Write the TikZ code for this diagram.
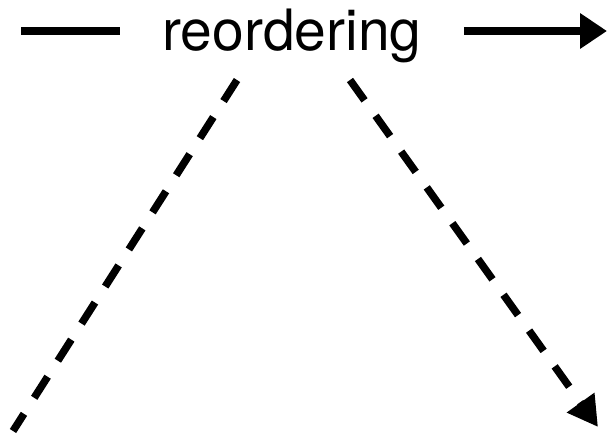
\documentclass[tikz,border=0pt]{standalone}
\usepackage{fontspec}
\setmainfont{TeX Gyre Heros}
\usetikzlibrary{arrows.meta,
                calc}

\begin{document}
\begin{tikzpicture}[x=1pt, y=-1pt,
    link/.style={line width=7.5pt},
    dlink/.style={line width=7.5pt, dash pattern=on 25pt off 19pt}]
 \useasboundingbox (0,0) rectangle (608,434);
 \node[anchor=base, inner xsep=42pt, inner ysep=0pt,
       font=\fontsize{57}{60}\selectfont] (reord) at (292,50) {reordering};
 \coordinate (in)  at (21,31);
 \coordinate (out) at (607,31);
 \coordinate (sl) at (237,80);
 \coordinate (sr) at (350,80);
 \coordinate (el) at (13,431);
 \coordinate (er) at (598,427);
 \draw[link] (in) -- (in -| reord.west);
 \draw[link, -{Triangle[length=27pt,width=34pt]}] (reord.east |- out) -- (out);
 \draw[dlink] (sl) -- (el);
 \draw[dlink, -{Triangle[length=30pt,width=32pt]}] (sr) -- (er);
\end{tikzpicture}
\end{document}
